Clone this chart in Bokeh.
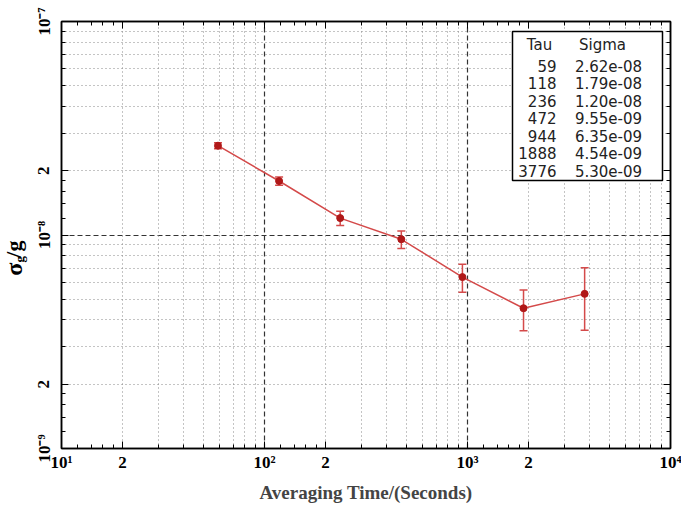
import math
from bokeh.plotting import figure
from bokeh.layouts import row
from bokeh.models import (ColumnDataSource, Whisker, TeeHead, FixedTicker, CustomJSTickFormatter,
                          LogAxis, Grid, Label, BoxAnnotation, Range1d)
from bokeh.core.properties import value
from bokeh.embed import file_html
from bokeh.resources import INLINE

# ---- data ----
tau = [59, 118, 236, 472, 944, 1888, 3776]
sigma = [2.62e-08, 1.79e-08, 1.20e-08, 9.55e-09, 6.35e-09, 4.54e-09, 5.30e-09]
sigma_err = [0.85e-09, 0.80e-09, 0.92e-09, 0.90e-09, 0.95e-09, 0.98e-09, 1.72e-09]
tau_labels = ["59", "118", "236", "472", "944", "1888", "3776"]
sigma_labels = ["2.62e-08", "1.79e-08", "1.20e-08", "9.55e-09", "6.35e-09", "4.54e-09", "5.30e-09"]
x_major = [10, 20, 100, 200, 1000, 2000, 10000]
y_major = [1e-9, 2e-9, 1e-8, 2e-8, 1e-7]
x_decades = [1, 2, 3]
y_decades = [-9, -8]
minor_mant = [1.2, 1.4, 1.6, 1.8, 3, 4, 5, 6, 7, 8, 9]
grid_mant = [2, 3, 4, 5, 6, 7, 8, 9]
x_dash_grid = [100, 1000]
y_dash_grid = [1e-8]

x_minor = [m * 10 ** d for d in x_decades for m in minor_mant]
y_minor = [m * 10.0 ** d for d in y_decades for m in minor_mant]
x_grid_minor = [m * 10 ** d for d in x_decades for m in grid_mant]
y_grid_minor = [m * 10.0 ** d for d in y_decades for m in grid_mant]

upper = [s + e for s, e in zip(sigma, sigma_err)]
lower = [s - e for s, e in zip(sigma, sigma_err)]
src = ColumnDataSource(dict(tau=tau, sigma=sigma, upper=upper, lower=lower))

SERIF = "Liberation Serif"
LINE_RED = "#d44a4a"
DARK_RED = "#b01818"
LAB_W = 30
TOP, FRAME_H, BOTTOM = 21, 427, 60

p = figure(frame_width=609, frame_height=FRAME_H, x_axis_type="log", y_axis_type="log",
           x_range=Range1d(10, 1e4), y_range=Range1d(1e-9, 1e-7), title=None,
           output_backend="svg", toolbar_location=None,
           min_border_left=31, min_border_right=11, min_border_top=TOP, min_border_bottom=BOTTOM)
p.outline_line_color = "black"
p.outline_line_width = 1.5
p.background_fill_color = "white"

fmt_code = """
const sup = {"0":"\u2070","1":"\u00b9","2":"\u00b2","3":"\u00b3","4":"\u2074","5":"\u2075",
             "6":"\u2076","7":"\u2077","8":"\u2078","9":"\u2079","-":"\u207b"};
const e = Math.floor(Math.log10(tick) + 1e-9);
const m = Math.round(tick / Math.pow(10, e));
if (m == 1) { return "10" + String(e).split("").map(c => sup[c]).join(""); }
return String(m);
"""

def style_axis(ax, size="17px"):
    ax.axis_line_color = "black"
    ax.axis_line_width = 1.5
    ax.major_tick_in = 7
    ax.major_tick_out = 0
    ax.minor_tick_in = 4
    ax.minor_tick_out = 0
    ax.major_tick_line_color = "black"
    ax.minor_tick_line_color = "black"
    ax.major_label_text_font = SERIF
    ax.major_label_text_font_style = "bold"
    ax.major_label_text_font_size = size
    ax.major_label_text_color = "black"

xt = FixedTicker(ticks=x_major, minor_ticks=x_minor)
yt = FixedTicker(ticks=y_major, minor_ticks=y_minor)

xa = p.xaxis[0]
xa.ticker = xt
xa.formatter = CustomJSTickFormatter(code=fmt_code)
style_axis(xa)
xa.major_label_standoff = 4
xa.axis_label = "Averaging Time/(Seconds)"
xa.axis_label_text_font = SERIF
xa.axis_label_text_font_style = "bold"
xa.axis_label_text_font_size = "19px"
xa.axis_label_standoff = 7

ya = p.yaxis[0]
ya.ticker = yt
ya.formatter = CustomJSTickFormatter(code=fmt_code)
style_axis(ya)
ya.major_label_orientation = "parallel"
ya.major_label_standoff = 8

for loc, tk in (("above", xt), ("right", yt)):
    ax = LogAxis(ticker=tk, formatter=CustomJSTickFormatter(code="return '';"))
    style_axis(ax)
    ax.major_label_standoff = 0
    ax.major_label_text_font_size = "1px"
    p.add_layout(ax, loc)

# grids
p.xgrid.ticker = FixedTicker(ticks=x_dash_grid)
p.ygrid.ticker = FixedTicker(ticks=y_dash_grid)
for g in (p.xgrid[0], p.ygrid[0]):
    g.grid_line_color = "#333333"
    g.grid_line_dash = "5 3"
    g.grid_line_width = 1.2
p.add_layout(Grid(dimension=0, ticker=FixedTicker(ticks=x_grid_minor),
                  grid_line_color="#888888", grid_line_dash="1 3", grid_line_width=1))
p.add_layout(Grid(dimension=1, ticker=FixedTicker(ticks=y_grid_minor),
                  grid_line_color="#888888", grid_line_dash="1 3", grid_line_width=1))

# data
p.line("tau", "sigma", source=src, line_color=LINE_RED, line_width=1.5)
p.add_layout(Whisker(base="tau", upper="upper", lower="lower", source=src, dimension="height",
                     line_color=LINE_RED, line_width=1.5,
                     upper_head=TeeHead(size=8, line_color=LINE_RED, line_width=1.5),
                     lower_head=TeeHead(size=8, line_color=LINE_RED, line_width=1.5)))
p.scatter("tau", "sigma", source=src, marker="circle", size=7,
          fill_color=DARK_RED, line_color=DARK_RED)

# table box
p.add_layout(BoxAnnotation(left=451, right=601, top=417, bottom=268,
                           left_units="screen", right_units="screen",
                           top_units="screen", bottom_units="screen",
                           fill_color="white", fill_alpha=1.0,
                           line_color="black", line_width=1.5, line_alpha=1.0))
TFONT = "DejaVu Sans"
TCOL = "#222222"
TSIZE = "15px"
p.add_layout(Label(x=478, y=404, x_units="screen", y_units="screen", text="Tau",
                   text_font=TFONT, text_font_size=TSIZE, text_align="center",
                   text_baseline="middle", text_color=TCOL))
p.add_layout(Label(x=541, y=404, x_units="screen", y_units="screen", text="Sigma",
                   text_font=TFONT, text_font_size=TSIZE, text_align="center",
                   text_baseline="middle", text_color=TCOL))
for i, (tl, sl) in enumerate(zip(tau_labels, sigma_labels)):
    yy = 383 - i * 17.5
    p.add_layout(Label(x=495, y=yy, x_units="screen", y_units="screen", text=tl,
                       text_font=TFONT, text_font_size=TSIZE, text_align="right",
                       text_baseline="middle", text_color=TCOL))
    p.add_layout(Label(x=547, y=yy, x_units="screen", y_units="screen", text=sl,
                       text_font=TFONT, text_font_size=TSIZE, text_align="center",
                       text_baseline="middle", text_color=TCOL))

# y-axis title (sigma_g / g) in a narrow side panel sharing the plot's vertical scale
lab = figure(frame_width=LAB_W, frame_height=FRAME_H, x_range=Range1d(0, LAB_W),
             y_range=p.y_range, y_axis_type="log", title=None,
             output_backend="svg", toolbar_location=None,
             min_border_left=0, min_border_right=0, min_border_top=TOP, min_border_bottom=BOTTOM)
lab.axis.visible = False
lab.grid.visible = False
lab.outline_line_color = None
# positions measured in the plot's own scale (fraction of a decade below 1e-8)
for txt, xs, dec, fs in (("\u03c3", 13, -0.160, "24px"), ("g", 19, -0.114, "13px"),
                         ("/g", 13, -0.066, "22px")):
    lab.text(x=[xs], y=[10 ** (-8 + dec)], text=[txt], angle=math.pi / 2,
             text_font=value(SERIF), text_font_style="bold", text_font_size=fs,
             text_align="center", text_baseline="middle", text_color="black")

layout = row(lab, p)
open("out.html", "w").write(file_html(layout, INLINE))
